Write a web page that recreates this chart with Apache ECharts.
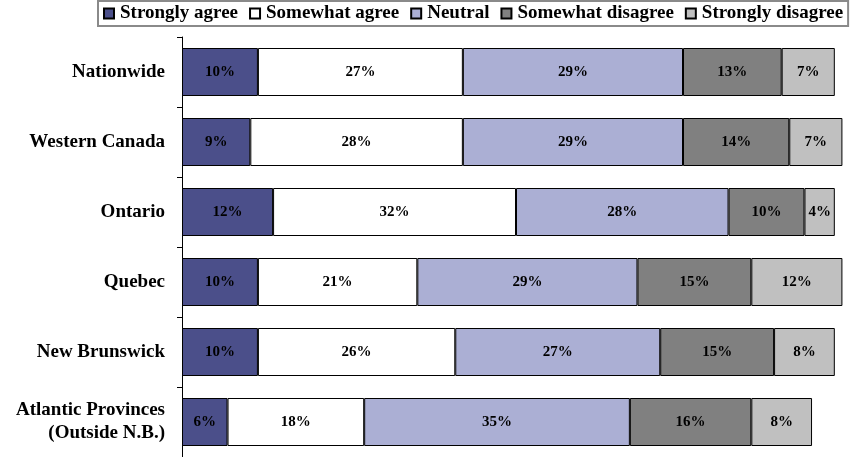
<!DOCTYPE html>
<html>
<head>
<meta charset="utf-8">
<script src="https://cdn.jsdelivr.net/npm/echarts@6/dist/echarts.min.js"></script>
<style>html,body{margin:0;padding:0;background:#fff;}#c{width:850px;height:457px;}</style>
</head>
<body>
<div id="c"></div>
<script>
const categories = ['Nationwide', 'Western Canada', 'Ontario', 'Quebec', 'New Brunswick', 'Atlantic Provinces\n(Outside N.B.)'];
const seriesNames = ['Strongly agree', 'Somewhat agree', 'Neutral', 'Somewhat disagree', 'Strongly disagree'];
const stronglyAgree = [10, 9, 12, 10, 10, 6];
const somewhatAgree = [27, 28, 32, 21, 26, 18];
const neutral = [29, 29, 28, 29, 27, 35];
const somewhatDisagree = [13, 14, 10, 15, 15, 16];
const stronglyDisagree = [7, 7, 4, 12, 8, 8];
const colors = ['#4b4f8a', '#ffffff', '#abafd4', '#808080', '#c0c0c0'];

const values = [stronglyAgree, somewhatAgree, neutral, somewhatDisagree, stronglyDisagree];
const font = '"Liberation Serif", "Times New Roman", serif';

const chart = echarts.init(document.getElementById('c'), null, {renderer: 'canvas'});
chart.setOption({
  animation: false,
  backgroundColor: '#fff',
  legend: {
    data: seriesNames,
    left: 98,
    top: 1,
    width: 760,
    padding: [3, 5, 3, 5],
    itemWidth: 10,
    itemHeight: 10,
    itemGap: 11,
    icon: 'rect',
    borderColor: '#8a8a8a',
    borderWidth: 2,
    textStyle: {fontFamily: font, fontWeight: 'bold', fontSize: 19, color: '#000', padding: [0, 0, 0, 1]}
  },
  grid: {left: 182, right: 0, top: 37, height: 424, containLabel: false},
  xAxis: {
    type: 'value', min: 0, max: 88, show: false
  },
  yAxis: {
    type: 'category',
    data: categories,
    inverse: true,
    axisLine: {show: true, lineStyle: {color: '#000', width: 1}},
    axisTick: {show: true, length: 5, lineStyle: {color: '#000'}},
    axisLabel: {
      margin: 17, fontFamily: font, fontWeight: 'bold', fontSize: 19, color: '#000',
      lineHeight: 23, align: 'right'
    }
  },
  series: seriesNames.map((n, i) => ({
    name: n,
    type: 'bar',
    stack: 'total',
    barWidth: 48,
    data: values[i],
    itemStyle: {color: colors[i], borderColor: '#000', borderWidth: 1},
    label: {
      show: true, position: 'inside', formatter: p => p.value + '%',
      fontFamily: font, fontWeight: 'bold', fontSize: 15, color: '#000'
    }
  }))
});
</script>
</body>
</html>
